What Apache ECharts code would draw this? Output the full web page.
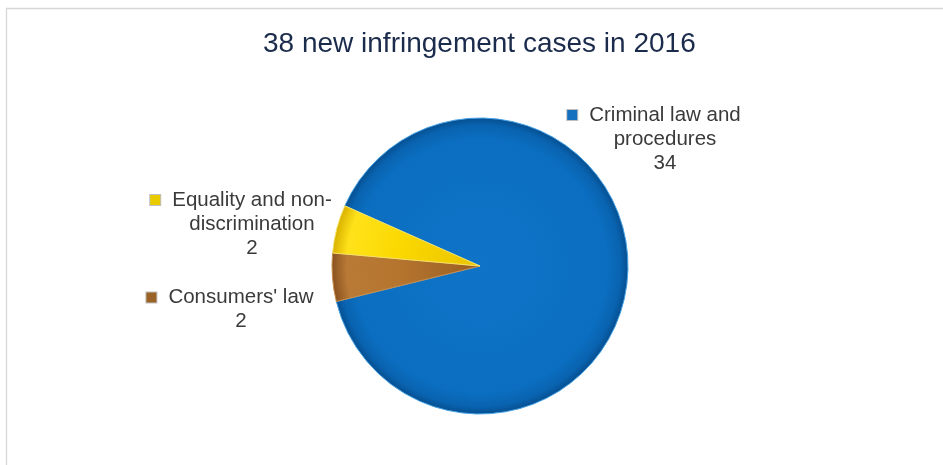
<!DOCTYPE html>
<html>
<head>
<meta charset="utf-8">
<title>38 new infringement cases in 2016</title>
<script src="https://cdn.jsdelivr.net/npm/echarts@6/dist/echarts.min.js"></script>
<style>
  html, body { margin: 0; padding: 0; background: #ffffff; }
  #chart { width: 943px; height: 465px; }
</style>
</head>
<body>
<div id="chart"></div>
<script>
// Infringement cases opened in 2016, by policy area
const chartTitle = '38 new infringement cases in 2016';
const categories = ['Criminal law and procedures', "Consumers' law", 'Equality and non-discrimination'];
const caseCounts = [34, 2, 2];

const FONT = '"Liberation Sans", Arial, Helvetica, sans-serif';
const CX = 480, CY = 266, R = 148;

// Bevel-like shading for each slice, anchored on the pie centre
function shade(stops) {
  return {
    type: 'radial', x: CX, y: CY, r: R, global: true,
    colorStops: stops.map(([offset, color]) => ({ offset, color }))
  };
}
const sliceFills = [
  shade([[0, '#0F74C8'], [0.86, '#0B6EC0'], [0.95, '#0963B0'], [1, '#064F90']]),
  shade([[0, '#9A5E22'], [0.55, '#B5752F'], [0.9, '#B87A36'], [1, '#8A5220']]),
  shade([[0, '#EAC400'], [0.55, '#FAD800'], [0.9, '#FFE21A'], [1, '#D9B200']])
];
const sliceEdges = ['#46A2E6', '#C88C4A', '#F5E26A'];
const markerColors = ['#1570C0', '#9A6226', '#E8CB00'];

// Label anchors (block centre) around the pie
const labelSpots = [
  { x: 665, y: 139 },
  { x: 241, y: 309.5 },
  { x: 252, y: 224 }
];

// Wrap a category name after the last space or hyphen within 17 characters
function wrapName(name) {
  if (name.length <= 17) return [name];
  const head = name.slice(0, 17);
  const afterHyphen = head.lastIndexOf('-') + 1;
  const atSpace = head.lastIndexOf(' ');
  const pos = afterHyphen > atSpace ? afterHyphen : atSpace;
  return [name.slice(0, pos).trim(), name.slice(pos).trim()];
}

const rich = { t: { fontFamily: FONT, fontSize: 20.5, lineHeight: 24, color: '#3A3A3A' }, g: { width: 12 }, s: { width: 22 } };
markerColors.forEach((c, i) => {
  rich['m' + i] = { width: 10, height: 10, backgroundColor: c, borderColor: 'rgba(0,0,0,0.25)', borderWidth: 1 };
});

const chart = echarts.init(document.getElementById('chart'), null, { renderer: 'canvas' });
chart.setOption({
  backgroundColor: '#ffffff',
  animation: false,
  title: {
    text: chartTitle,
    left: 263,
    top: 30,
    padding: 0,
    textStyle: { fontFamily: FONT, fontSize: 28, fontWeight: 'normal', color: '#1B2B4B' }
  },
  graphic: [{
    type: 'rect',
    shape: { x: 6.5, y: 8.5, width: 1000, height: 1000 },
    style: { fill: 'none', stroke: '#D6D6D6', lineWidth: 1.3 },
    silent: true,
    z: -1
  }],
  series: [{
    type: 'pie',
    center: [CX, CY],
    radius: [0, R],
    startAngle: 156,
    clockwise: true,
    avoidLabelOverlap: false,
    data: categories.map((name, i) => ({
      name,
      value: caseCounts[i],
      itemStyle: { color: sliceFills[i], borderColor: sliceEdges[i], borderWidth: 1 }
    })),
    label: {
      show: true,
      position: 'outside',
      align: 'center',
      formatter: (p) => {
        const lines = wrapName(p.name);
        const first = `{m${p.dataIndex}|}{g|}{t|${lines[0]}}{s|}`;
        const rest = lines.slice(1).map(l => `{t|${l}}`);
        return [first, ...rest, `{t|${p.value}}`].join('\n');
      },
      rich
    },
    labelLine: { show: false },
    labelLayout: (p) => ({
      x: labelSpots[p.dataIndex].x,
      y: labelSpots[p.dataIndex].y,
      align: 'center',
      verticalAlign: 'middle'
    }),
    emphasis: { disabled: true }
  }]
});
</script>
</body>
</html>
